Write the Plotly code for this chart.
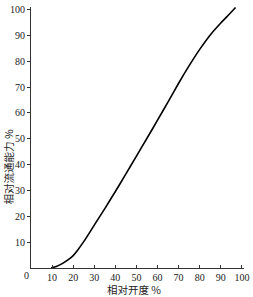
import plotly.graph_objects as go

opening = [9.5, 12, 15, 18, 20, 22, 25, 28, 30, 35, 40, 45, 50, 55, 60, 65, 70, 75, 80, 85, 90, 94, 97]
capacity = [0, 0.6, 1.8, 3.4, 4.8, 6.8, 10.2, 14, 16.6, 23, 29.6, 36.4, 43.3, 50.2, 57.2, 64.3, 71.5, 78.3, 84.6, 90.2, 94.8, 98.2, 100.8]

x_ticks = [10, 20, 30, 40, 50, 60, 70, 80, 90, 100]
y_ticks = [10, 20, 30, 40, 50, 60, 70, 80, 90, 100]
x_title = "相对开度 %"
y_title = "相对流通能力 %"

fig = go.Figure()
fig.add_trace(go.Scatter(x=opening, y=capacity, mode="lines",
                         line=dict(color="black", width=1.6, shape="spline", smoothing=0.6),
                         showlegend=False, hoverinfo="skip"))

tickfont = dict(family="Liberation Serif", size=10, color="#222")
titlefont = dict(family="Noto Sans CJK SC", size=10.5, color="#222")

fig.update_layout(
    width=253, height=297,
    margin=dict(l=31, r=8, t=4, b=29),
    paper_bgcolor="white", plot_bgcolor="white",
    xaxis=dict(range=[0, 101], tickvals=x_ticks, ticktext=[str(v) for v in x_ticks],
               showgrid=False, zeroline=False, showline=True, linecolor="#333", linewidth=1,
               ticks="inside", ticklen=3, tickcolor="#333", tickfont=tickfont),
    yaxis=dict(range=[0, 101], tickvals=y_ticks, ticktext=[str(v) for v in y_ticks],
               showgrid=False, zeroline=False, showline=True, linecolor="#333", linewidth=1,
               ticks="outside", ticklen=3, tickcolor="#333", tickfont=tickfont),
)
fig.add_annotation(x=0, y=0, xref="x", yref="y", text="0", showarrow=False,
                   xanchor="center", yanchor="middle",
                   xshift=-5, yshift=-7, font=tickfont)
fig.add_annotation(x=0.484, y=0, xref="paper", yref="paper", text=x_title, showarrow=False,
                   xanchor="center", yanchor="middle", yshift=-21, font=titlefont)
fig.add_annotation(x=0, y=0.462, xref="paper", yref="paper", text=y_title, showarrow=False,
                   xanchor="center", yanchor="middle", xshift=-23, yshift=-20,
                   textangle=-90, font=titlefont)

fig.write_html("out.html")
